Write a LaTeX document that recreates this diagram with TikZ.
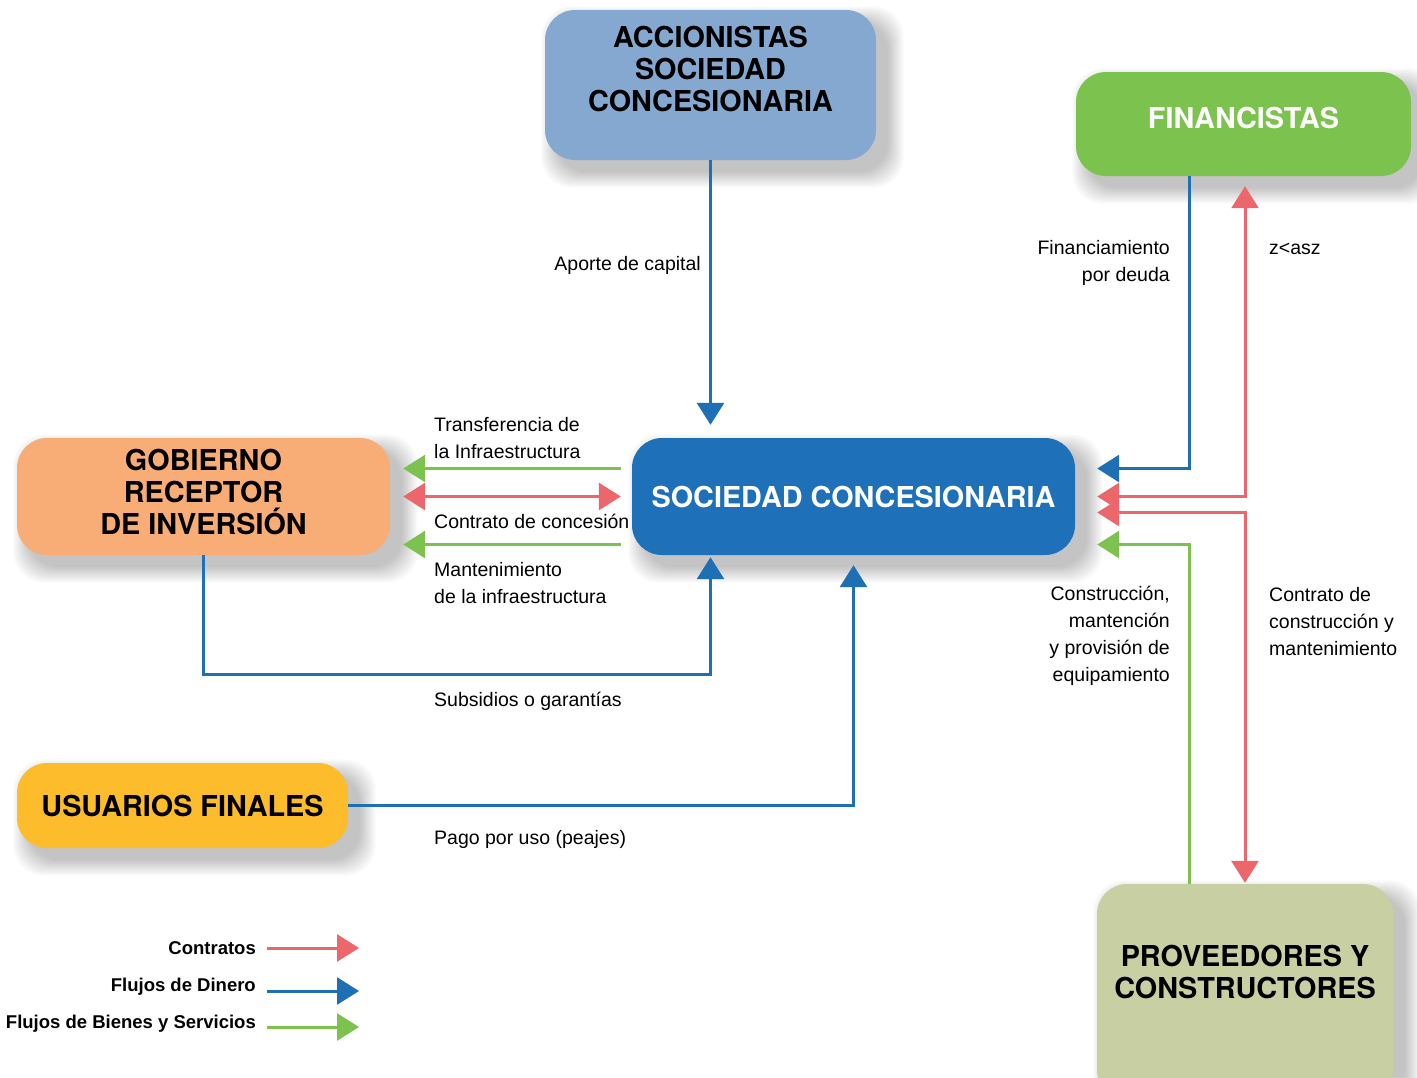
\documentclass[tikz,border=0pt]{standalone}
\usepackage{fontspec}
\setmainfont{Liberation Sans}
\newfontfamily\headfont{TeX Gyre Heros}
\usetikzlibrary{arrows.meta,backgrounds}

\definecolor{accfill}{HTML}{84A8CF}
\definecolor{finfill}{HTML}{7CC24E}
\definecolor{socfill}{HTML}{1E70B8}
\definecolor{gobfill}{HTML}{F7AD75}
\definecolor{usufill}{HTML}{FDBC2B}
\definecolor{provfill}{HTML}{C8CFA3}
\definecolor{moneyline}{HTML}{1F6FB5}
\definecolor{contractline}{HTML}{EC676C}
\definecolor{goodsline}{HTML}{7CC24E}

\tikzset{
  >={Triangle[width=27pt,length=22pt]},
  box/.style={rounded corners=30pt, align=center, inner sep=0pt,
    font=\headfont\bfseries\fontsize{28.8}{32}\selectfont},
  flow/.style={line width=3pt},
  money/.style={flow, draw=moneyline},
  contract/.style={flow, draw=contractline},
  goods/.style={flow, draw=goodsline},
  lab/.style={inner sep=0pt, font=\fontsize{19.5}{27}\selectfont},
  leg/.style={inner sep=0pt, font=\bfseries\fontsize{18.5}{24}\selectfont},
}

% soft drop shadow under a box node, built from stacked translucent layers
\newcommand\boxshadow[1]{%
  \foreach \k in {0,...,11}{%
    \fill[black, opacity=0.02, rounded corners=30pt]
      ([shift={(12-1.4*\k,12+1.4*\k)}]#1.south west) rectangle
      ([shift={(12+1.4*\k,12-1.4*\k)}]#1.north east);
  }%
}

\begin{document}
\begin{tikzpicture}[x=1pt,y=-1pt]
\clip (0,0) rectangle (1417,1077);

% actors
\node[box, fill=accfill, minimum width=331pt, minimum height=150pt] (acc) at (710.5,85)
  {ACCIONISTAS\\SOCIEDAD\\CONCESIONARIA\\\mbox{}};
\node[box, fill=finfill, text=white, minimum width=335pt, minimum height=104pt, text depth=12pt] (fin) at (1243.5,124)
  {FINANCISTAS};
\node[box, fill=socfill, text=white, minimum width=443pt, minimum height=117pt] (soc) at (853.5,496.5)
  {SOCIEDAD CONCESIONARIA};
\node[box, fill=gobfill, minimum width=373pt, minimum height=117pt] (gob) at (203.5,496.5)
  {GOBIERNO\\RECEPTOR\\DE INVERSIÓN\\[-22pt]\mbox{}};
\node[box, fill=usufill, minimum width=331pt, minimum height=85pt] (usu) at (182.5,805.5)
  {USUARIOS FINALES};
\node[box, fill=provfill, minimum width=296pt, minimum height=216pt] (prov) at (1245,992)
  {PROVEEDORES Y\\CONSTRUCTORES\\[8pt]\mbox{}};

\begin{pgfonlayer}{background}
  \fill[white] (0,0) rectangle (1417,1077);
  \boxshadow{acc}
  \boxshadow{fin}
  \boxshadow{soc}
  \boxshadow{gob}
  \boxshadow{usu}
  \boxshadow{prov}
\end{pgfonlayer}

% vertical trunks on the right
\coordinate (trunkL) at (1189,0);
\coordinate (trunkR) at (1245,0);

% capital contribution
\draw[money,->] (acc.south) -- ([yshift=13pt]acc.south |- soc.north);
\node[lab, anchor=east] at (701,265) {Aporte de capital};

% financiers
\draw[money,->] (trunkL |- fin.south) |- ([xshift=22pt,yshift=28pt]soc.east);
\draw[contract,<->] ([xshift=22pt]soc.east) -| ([yshift=-10pt]trunkR |- fin.south);
\node[lab, anchor=east, align=right] at (1170,263) {Financiamiento\\por deuda};
\node[lab, anchor=west] at (1269,249) {z<asz};

% suppliers and builders
\draw[contract,<->] ([xshift=22pt,yshift=-16pt]soc.east) -| ([yshift=1pt]trunkR |- prov.north);
\draw[goods,->] (trunkL |- prov.north) |- ([xshift=22pt,yshift=-48pt]soc.east);
\node[lab, anchor=east, align=right] at (1170,636)
  {Construcción,\\mantención\\y provisión de\\equipamiento};
\node[lab, anchor=west, align=left] at (1269,622)
  {Contrato de\\construcción y\\mantenimiento};

% government
\draw[goods,->] ([xshift=-11pt,yshift=28pt]soc.west) -- ([xshift=13pt,yshift=28pt]gob.east);
\draw[contract,<->] ([xshift=13pt]gob.east) -- ([xshift=-11pt]soc.west);
\draw[goods,->] ([xshift=-11pt,yshift=-48pt]soc.west) -- ([xshift=13pt,yshift=-48pt]gob.east);
\node[lab, anchor=west, align=left] at (434,438) {Transferencia de\\la Infraestructura};
\node[lab, anchor=west] at (434,521) {Contrato de concesión};
\node[lab, anchor=west, align=left] at (434,583) {Mantenimiento\\de la infraestructura};

\draw[money,->] (gob.south) -- ([yshift=-119pt]gob.south) -| ([yshift=-2pt]acc.south |- soc.south);
\node[lab, anchor=west] at (434,701) {Subsidios o garantías};

% end users
\draw[money,->] (usu.east) -| ([yshift=-10pt]soc.south);
\node[lab, anchor=west] at (434,839) {Pago por uso (peajes)};

% legend
\node[leg, anchor=east] (lc) at (256,948) {Contratos};
\node[leg, anchor=east] (lm) at (256,987) {Flujos de Dinero};
\node[leg, anchor=east] (lg) at (256,1024) {Flujos de Bienes y Servicios};
\coordinate (lcs) at (267,948);
\coordinate (lms) at (267,991);
\coordinate (lgs) at (267,1027);
\draw[contract,->] (lcs) -- ++(92,0);
\draw[money,->] (lms) -- ++(92,0);
\draw[goods,->] (lgs) -- ++(92,0);
\end{tikzpicture}
\end{document}
